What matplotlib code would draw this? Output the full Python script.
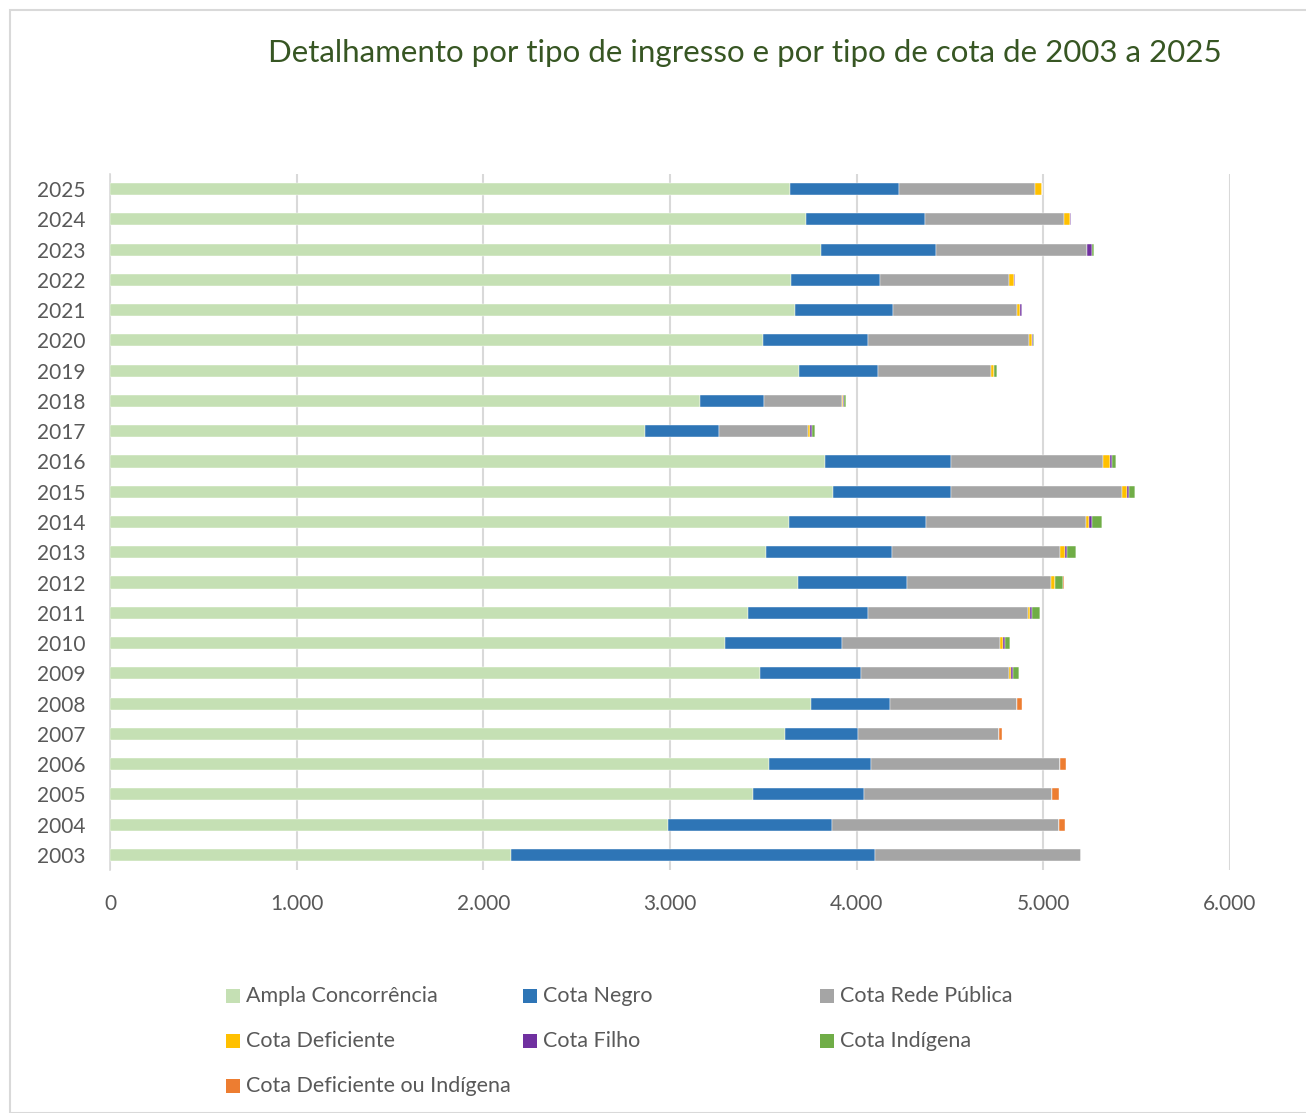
import matplotlib
matplotlib.use("Agg")
import matplotlib.pyplot as plt
import numpy as np
from matplotlib.patches import Rectangle
from matplotlib.ticker import FuncFormatter

plt.rcParams['font.family'] = ['Lato', 'DejaVu Sans']

years = list(range(2003, 2026))

# values, 2003 .. 2025
ampla = [2148, 2989, 3445, 3530, 3616, 3755, 3482, 3295, 3418, 3686, 3514, 3637,
         3873, 3830, 2866, 3161, 3691, 3498, 3670, 3648, 3809, 3729, 3643]
negro = [1950, 879, 594, 547, 391, 423, 541, 626, 643, 584, 675, 734,
         632, 675, 396, 343, 423, 563, 525, 477, 616, 637, 584]
rede_publica = [1104, 1216, 1009, 1010, 754, 681, 793, 847, 859, 771, 902, 856,
                916, 816, 479, 417, 607, 862, 664, 693, 810, 746, 728]
deficiente = [0, 0, 0, 0, 0, 0, 9, 14, 9, 20, 25, 18,
              27, 36, 11, 7, 13, 16, 14, 23, 0, 29, 38]
filho = [0, 0, 0, 0, 0, 0, 11, 13, 12, 0, 12, 16,
         11, 11, 7, 5, 0, 6, 11, 5, 26, 9, 0]
indigena = [0, 0, 0, 0, 0, 0, 34, 28, 41, 44, 47, 51,
            32, 21, 16, 12, 16, 3, 0, 0, 9, 0, 0]
def_ou_ind = [0, 34, 36, 34, 17, 28, 0, 0, 0, 6, 0, 0,
              0, 0, 0, 0, 0, 0, 0, 0, 0, 0, 0]

series = [
    ("Ampla Concorrência", ampla, "#C5E0B4"),
    ("Cota Negro", negro, "#2E75B6"),
    ("Cota Rede Pública", rede_publica, "#A5A5A5"),
    ("Cota Deficiente", deficiente, "#FFC000"),
    ("Cota Filho", filho, "#7030A0"),
    ("Cota Indígena", indigena, "#70AD47"),
    ("Cota Deficiente ou Indígena", def_ou_ind, "#ED7D31"),
]

W, H = 1306, 1113
fig = plt.figure(figsize=(W / 100, H / 100), dpi=100)
fig.patches.append(Rectangle((10 / W, 0), 1.2, 1 - 10 / H, transform=fig.transFigure,
                             fill=False, edgecolor="#D9D9D9", linewidth=1.5))

ax = fig.add_axes([110 / W, 1 - 870 / H, 1120 / W, 696 / H])

pos = np.arange(len(years))
left = np.zeros(len(years))
for name, vals, color in series:
    vals = np.array(vals, dtype=float)
    ax.barh(pos, vals, left=left, height=0.4, color=color, label=name,
            edgecolor="white", linewidth=0.3, zorder=3)
    left += vals

ax.set_xlim(0, 6000)
ax.set_ylim(-0.5, len(years) - 0.5)
ax.set_yticks(pos)
ax.set_yticklabels([str(y) for y in years])
ax.set_xticks(np.arange(0, 6001, 1000))
ax.xaxis.set_major_formatter(FuncFormatter(lambda v, p: f"{int(v):,}".replace(",", ".")))
ax.grid(axis="x", color="#D9D9D9", linewidth=1.5, zorder=0)
for s in ["top", "right", "bottom"]:
    ax.spines[s].set_visible(False)
ax.spines["left"].set_color("#D9D9D9")
ax.spines["left"].set_linewidth(1.2)
ax.tick_params(axis="both", length=0, labelsize=15, colors="#595959")
ax.tick_params(axis="x", pad=17)
ax.tick_params(axis="y", pad=18)

fig.text(745 / W, 1 - 53 / H, "Detalhamento por tipo de ingresso e por tipo de cota de 2003 a 2025",
         ha="center", va="center", fontsize=22.5, color="#375623")

# legend laid out in a 3-column grid like the original
legend_cols = [226, 523, 820]
legend_rows = [996, 1041, 1086]
for i, (name, vals, color) in enumerate(series):
    cx = legend_cols[i % 3]
    cy = legend_rows[i // 3]
    fig.patches.append(Rectangle((cx / W, 1 - (cy + 7) / H), 14 / W, 14 / H,
                                 transform=fig.transFigure, facecolor=color,
                                 edgecolor="none"))
    fig.text((cx + 20) / W, 1 - cy / H, name, ha="left", va="center",
             fontsize=15.5, color="#595959")

fig.savefig("out.png", dpi=100)
